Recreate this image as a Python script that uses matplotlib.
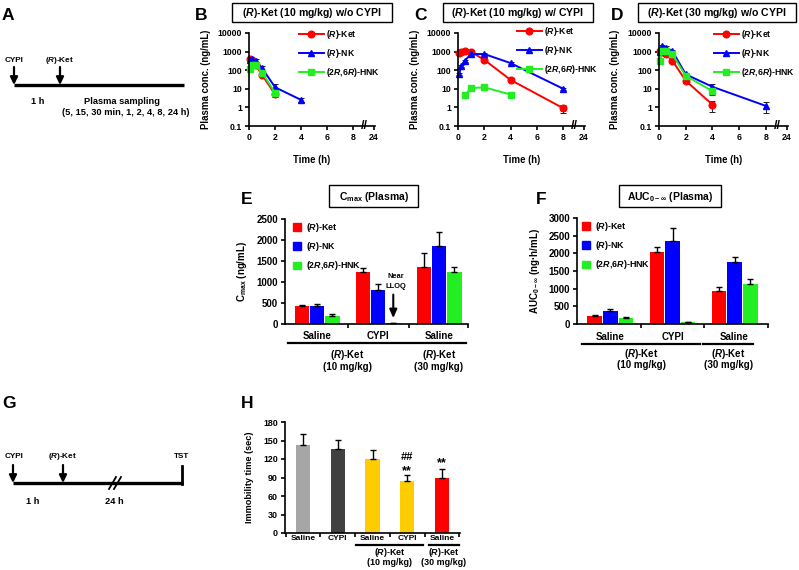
import matplotlib
matplotlib.use('Agg')
import matplotlib.pyplot as plt
import numpy as np
from matplotlib.transforms import blended_transform_factory as btf
from matplotlib.lines import Line2D
from matplotlib.patches import Rectangle, Patch

plt.rcParams.update({
    'font.family': ['Liberation Sans', 'DejaVu Sans'],
    'font.weight': 'bold',
    'axes.labelweight': 'bold',
    'mathtext.fontset': 'custom',
    'mathtext.rm': 'Liberation Sans:bold',
    'mathtext.it': 'Liberation Sans:italic:bold',
    'mathtext.bf': 'Liberation Sans:bold',
    'mathtext.fallback': 'cm',
    'axes.linewidth': 1.2,
    'xtick.major.width': 1.2, 'ytick.major.width': 1.2,
    'xtick.major.size': 3, 'ytick.major.size': 3,
    'xtick.major.pad': 2, 'ytick.major.pad': 2,
})

# ---------------- data ----------------
lab_ket = r'($\mathit{R}$)-Ket'
lab_nk = r'($\mathit{R}$)-NK'
lab_hnk = r'(2$\mathit{R}$,6$\mathit{R}$)-HNK'

# B: (R)-Ket 10 mg/kg w/o CYPI
b_ket_t = [0.083, 0.25, 0.5, 1, 2]
b_ket = [380, 340, 190, 56, 5]
b_ket_err = [40, 40, 30, 10, 1.5]
b_nk_t = [0.083, 0.25, 0.5, 1, 2, 4]
b_nk = [360, 400, 330, 130, 12, 2.5]
b_nk_err = [60, 60, 50, 30, 7, 0.6]
b_hnk_t = [0.083, 0.25, 0.5, 1, 2]
b_hnk = [110, 190, 180, 75, 6]
b_hnk_err = [20, 30, 30, 15, 2]

# C: (R)-Ket 10 mg/kg w/ CYPI
c_ket_t = [0.083, 0.25, 0.5, 1, 2, 4, 8]
c_ket = [880, 1000, 1080, 960, 360, 30, 0.9]
c_ket_err = [100, 100, 100, 100, 50, 5, 0.4]
c_nk_t = [0.083, 0.25, 0.5, 1, 2, 4, 8]
c_nk = [63, 170, 320, 740, 740, 240, 10]
c_nk_err = [10, 30, 50, 100, 100, 30, 1.5]
c_hnk_t = [0.5, 1, 2, 4]
c_hnk = [4.5, 11, 12, 4.9]
c_hnk_err = [0.5, 1.5, 1.5, 0.8]

# D: (R)-Ket 30 mg/kg w/o CYPI
d_ket_t = [0.083, 0.25, 0.5, 1, 2, 4]
d_ket = [1080, 1000, 720, 330, 27, 1.4]
d_ket_err = [150, 150, 100, 50, 5, 0.85]
d_nk_t = [0.083, 0.25, 0.5, 1, 2, 4, 8]
d_nk = [920, 2000, 1650, 1080, 60, 12.8, 1.2]
d_nk_err = [150, 300, 250, 150, 10, 5, 0.7]
d_hnk_t = [0.083, 0.25, 0.5, 1, 2, 4]
d_hnk = [320, 1080, 1080, 720, 50, 7.5]
d_hnk_err = [60, 150, 150, 100, 8, 3]

pk_xticks = ['0', '2', '4', '6', '8', '24']
pk_yticks = ['0.1', '1', '10', '100', '1000', '10000']

# E: Cmax
groups = ['Saline', 'CYPI', 'Saline']
e_ket = [420, 1246, 1357]
e_ket_err = [24, 95, 341]
e_nk = [436, 810, 1857]
e_nk_err = [48, 142, 326]
e_hnk = [198, 15, 1238]
e_hnk_err = [40, 5, 127]

# F: AUC
f_ket = [227, 2035, 946]
f_ket_err = [28, 142, 104]
f_nk = [369, 2356, 1751]
f_nk_err = [47, 350, 132]
f_hnk = [180, 47, 1136]
f_hnk_err = [28, 20, 132]

# H: immobility time
h_labels = ['Saline', 'CYPI', 'Saline', 'CYPI', 'Saline']
h_vals = [143, 137, 120.5, 84, 89]
h_err = [17, 14, 14.5, 9.5, 15]
h_colors = ['#a6a6a6', '#404040', '#ffcc00', '#ffcc00', '#ff0000']

RED, BLUE, GREEN = '#ff0000', '#0000ff', '#22ee22'

# ---------------- figure ----------------
W, H = 799, 570
fig = plt.figure(figsize=(W / 100, H / 100), dpi=100)


def add_ax(x0, y0, x1, y1):
    ax = fig.add_axes([x0 / W, 1 - y1 / H, (x1 - x0) / W, (y1 - y0) / H])
    ax.spines['top'].set_visible(False)
    ax.spines['right'].set_visible(False)
    return ax


ov = fig.add_axes([0, 0, 1, 1], zorder=10)
ov.set_xlim(0, W)
ov.set_ylim(H, 0)
ov.axis('off')
ov.patch.set_alpha(0)


def letter(x, y, s):
    ov.text(x, y, s, fontsize=12.5, fontweight='bold', ha='left', va='center')


def titlebox(x0, x1, y0, y1, s, fs=7.6):
    ov.add_patch(Rectangle((x0, y0), x1 - x0, y1 - y0, fill=False, ec='black', lw=1.0))
    ov.text((x0 + x1) / 2, (y0 + y1) / 2 + 0.5, s, ha='center', va='center', fontsize=fs)


def arrow(x, y0, y1):
    ov.annotate('', xy=(x, y1), xytext=(x, y0),
                arrowprops=dict(arrowstyle='-|>,head_width=0.22,head_length=0.45',
                                lw=1.6, color='black', shrinkA=0, shrinkB=0))


# ---- Panel A ----
letter(2, 15, 'A')
ov.plot([14, 184], [85, 85], color='black', lw=2.4, solid_capstyle='butt')
arrow(14, 67, 85)
arrow(60, 67, 85)
ov.text(14, 61, 'CYPI', ha='center', va='center', fontsize=5.9)
ov.text(60, 61, lab_ket, ha='center', va='center', fontsize=5.9)
ov.text(38, 101, '1 h', ha='center', va='center', fontsize=6.7)
ov.text(122, 101, 'Plasma sampling', ha='center', va='center', fontsize=6.7)
ov.text(126, 112.5, '(5, 15, 30 min, 1, 2, 4, 8, 24 h)', ha='center', va='center', fontsize=6.7)


# ---- PK panels ----
def pk_panel(x0, x1, series, leg_x, leg_y):
    ax = add_ax(x0, 33, x1, 126)
    handles = []
    for t, v, e, color, marker, label in series:
        ax.errorbar(t, v, yerr=e, color=color, marker=marker, ms=4.8, lw=1.4,
                    ecolor='#222222', elinewidth=0.7, capsize=2, capthick=0.7, clip_on=False)
        handles.append(Line2D([], [], color=color, marker=marker, ms=4.8, lw=1.4, label=label))
    ax.set_yscale('log')
    ax.set_ylim(0.1, 10000)
    ax.set_yticks([0.1, 1, 10, 100, 1000, 10000])
    ax.set_yticklabels(pk_yticks)
    ax.minorticks_off()
    ax.set_xlim(0, 9.65)
    ax.set_xticks([0, 2, 4, 6, 8, 9.55])
    ax.set_xticklabels(pk_xticks)
    ax.tick_params(labelsize=6.3)
    ax.set_ylabel('Plasma conc. (ng/mL)', fontsize=6.9)
    ax.set_xlabel('Time (h)', fontsize=6.9)
    ax.yaxis.set_label_coords(-0.30, 0.5)
    ax.xaxis.set_label_coords(0.5, -0.31)
    ax.text(8.85, 0, '//', transform=btf(ax.transData, ax.transAxes), ha='center', va='center',
            fontsize=9, clip_on=False)
    ax.legend(handles=handles, loc='upper left', bbox_to_anchor=(leg_x / W, 1 - leg_y / H),
              bbox_transform=fig.transFigure, frameon=False, fontsize=6.2, borderpad=0,
              borderaxespad=0, handlelength=2.9, handletextpad=0.2, labelspacing=0.72)
    return ax


letter(195, 15, 'B')
titlebox(232, 392, 3, 22, r'($\mathit{R}$)-Ket (10 mg/kg) w/o CYPI')
pk_panel(249, 375, [
    (b_ket_t, b_ket, b_ket_err, RED, 'o', lab_ket),
    (b_nk_t, b_nk, b_nk_err, BLUE, '^', lab_nk),
    (b_hnk_t, b_hnk, b_hnk_err, GREEN, 's', lab_hnk)], 299, 28)

letter(414, 15, 'C')
titlebox(443, 593, 3, 22, r'($\mathit{R}$)-Ket (10 mg/kg) w/ CYPI')
pk_panel(458, 585, [
    (c_ket_t, c_ket, c_ket_err, RED, 'o', lab_ket),
    (c_nk_t, c_nk, c_nk_err, BLUE, '^', lab_nk),
    (c_hnk_t, c_hnk, c_hnk_err, GREEN, 's', lab_hnk)], 517, 25)

letter(611, 15, 'D')
titlebox(638, 796, 3, 22, r'($\mathit{R}$)-Ket (30 mg/kg) w/o CYPI')
pk_panel(659, 788, [
    (d_ket_t, d_ket, d_ket_err, RED, 'o', lab_ket),
    (d_nk_t, d_nk, d_nk_err, BLUE, '^', lab_nk),
    (d_hnk_t, d_hnk, d_hnk_err, GREEN, 's', lab_hnk)], 714, 28)


# ---- bar panels E, F ----
def bar_panel(x0, y0, x1, y1, xlim, ymax, ystep, ylabel, ylx, data, leg_x, leg_y,
              ycat, yline, ytxt1, ytxt2, line1, line2, ket30_x):
    ax = add_ax(x0, y0, x1, y1)
    grp = np.array([0, 4, 8])
    handles = []
    for i, (vals, errs, col, lab) in enumerate(data):
        ax.bar(grp + i, vals, width=0.95, color=col, yerr=[np.zeros(3), errs], capsize=2.5,
               error_kw=dict(elinewidth=1, capthick=1, ecolor='black'))
        handles.append(Patch(color=col, label=lab))
    ax.set_xlim(*xlim)
    ax.set_ylim(0, ymax)
    ax.set_yticks(np.arange(0, ymax + 1, ystep))
    ax.set_xticks([3, 7, xlim[1]])
    ax.set_xticklabels([])
    ax.tick_params(labelsize=7)
    ax.set_ylabel(ylabel, fontsize=7)
    ax.yaxis.set_label_coords(ylx, 0.5)
    tr = btf(ax.transData, ax.transAxes)
    for c, s in zip(grp + 1, groups):
        ax.text(c, ycat, s, transform=tr, ha='center', va='center', fontsize=7, clip_on=False)
    ax.plot(line1, [yline, yline], transform=tr, color='black', lw=1.6, clip_on=False)
    ax.plot(line2, [yline, yline], transform=tr, color='black', lw=1.6, clip_on=False)
    ax.text(3, ytxt1, lab_ket, transform=tr, ha='center', va='center', fontsize=7, clip_on=False)
    ax.text(3, ytxt2, '(10 mg/kg)', transform=tr, ha='center', va='center', fontsize=7, clip_on=False)
    ax.text(ket30_x, ytxt1, lab_ket, transform=tr, ha='center', va='center', fontsize=7, clip_on=False)
    ax.text(ket30_x, ytxt2, '(30 mg/kg)', transform=tr, ha='center', va='center', fontsize=7, clip_on=False)
    ax.legend(handles=handles, loc='upper left', bbox_to_anchor=(leg_x / W, 1 - leg_y / H),
              bbox_transform=fig.transFigure, frameon=False, fontsize=6.4, borderpad=0,
              borderaxespad=0, handlelength=0.95, handleheight=0.95, handletextpad=0.55,
              labelspacing=0.7)
    return ax


letter(241, 200, 'E')
titlebox(329, 418, 185, 207, r'C$_{\mathregular{max}}$ (Plasma)', fs=7.5)
axE = bar_panel(285, 219, 468, 324, (-1.1, 10.9), 2500, 500, r'C$_{\mathregular{max}}$ (ng/mL)', -0.197,
                [(e_ket, e_ket_err, RED, lab_ket), (e_nk, e_nk_err, BLUE, lab_nk),
                 (e_hnk, e_hnk_err, GREEN, lab_hnk)], 293, 221,
                -0.114, -0.18, -0.295, -0.41, (-0.9, 6.9), (7.05, 10.8), 9)
axE.text(6.2, 1120, 'Near', ha='center', va='center', fontsize=5.4)
axE.text(6.2, 890, 'LLOQ', ha='center', va='center', fontsize=5.4)
axE.annotate('', xy=(6, 140), xytext=(6, 700),
             arrowprops=dict(arrowstyle='-|>,head_width=0.22,head_length=0.5', lw=1.5,
                             color='black', shrinkA=0, shrinkB=0))

letter(536, 200, 'F')
titlebox(619, 721, 185, 207, r'AUC$_{\mathregular{0-∞}}$ (Plasma)', fs=7.5)
bar_panel(577, 218, 768, 324, (-1.15, 11.15), 3000, 500, r'AUC$_{\mathregular{0-∞}}$ (ng·h/mL)', -0.183,
          [(f_ket, f_ket_err, RED, lab_ket), (f_nk, f_nk_err, BLUE, lab_nk),
           (f_hnk, f_hnk_err, GREEN, lab_hnk)], 582, 220,
          -0.123, -0.19, -0.283, -0.387, (-0.85, 6.8), (6.98, 10.2), 8.6)

# ---- Panel G ----
letter(2, 404, 'G')
ov.plot([13, 183], [483, 483], color='black', lw=2.4, solid_capstyle='butt')
ov.plot([182, 182], [466, 484], color='black', lw=2.0)
arrow(13, 465, 483)
arrow(63, 465, 483)
ov.plot([109, 116], [489, 477], color='black', lw=1.3)
ov.plot([114, 121], [489, 477], color='black', lw=1.3)
ov.text(14, 457, 'CYPI', ha='center', va='center', fontsize=5.9)
ov.text(63, 457, lab_ket, ha='center', va='center', fontsize=5.9)
ov.text(182, 457, 'TST', ha='center', va='center', fontsize=5.9)
ov.text(33, 502, '1 h', ha='center', va='center', fontsize=6.7)
ov.text(114, 502, '24 h', ha='center', va='center', fontsize=6.7)

# ---- Panel H ----
letter(241, 404, 'H')
axH = add_ax(285, 422, 460, 533)
xh = np.arange(len(h_vals))
axH.bar(xh, h_vals, width=0.41, color=h_colors, yerr=[np.zeros(5), h_err], capsize=2.5,
        error_kw=dict(elinewidth=1, capthick=1, ecolor='black'))
axH.set_xlim(-0.52, 4.52)
axH.set_ylim(0, 180)
axH.set_yticks(np.arange(0, 181, 30))
axH.set_xticks([-0.5, 0.5, 1.5, 2.5, 3.5, 4.5])
axH.set_xticklabels([])
axH.tick_params(labelsize=6.4)
axH.set_ylabel('Immobility time (sec)', fontsize=6.6)
axH.yaxis.set_label_coords(-0.18, 0.5)
trH = btf(axH.transData, axH.transAxes)
for x, s in zip(xh, h_labels):
    axH.text(x, -0.054, s, transform=trH, ha='center', va='center', fontsize=6.0, clip_on=False)
axH.plot([1.52, 3.45], [-0.108, -0.108], transform=trH, color='black', lw=1.6, clip_on=False)
axH.plot([3.62, 4.49], [-0.108, -0.108], transform=trH, color='black', lw=1.6, clip_on=False)
axH.text(2.5, -0.18, lab_ket, transform=trH, ha='center', va='center', fontsize=6.4, clip_on=False)
axH.text(2.5, -0.27, '(10 mg/kg)', transform=trH, ha='center', va='center', fontsize=6.4, clip_on=False)
axH.text(4.05, -0.18, lab_ket, transform=trH, ha='center', va='center', fontsize=6.4, clip_on=False)
axH.text(4.05, -0.27, '(30 mg/kg)', transform=trH, ha='center', va='center', fontsize=6.4, clip_on=False)
axH.text(3, 124, '##', ha='center', va='center', fontsize=8)
axH.text(3, 100, '**', ha='center', va='center', fontsize=9)
axH.text(4, 113, '**', ha='center', va='center', fontsize=9)

fig.savefig('out.png', dpi=100)
